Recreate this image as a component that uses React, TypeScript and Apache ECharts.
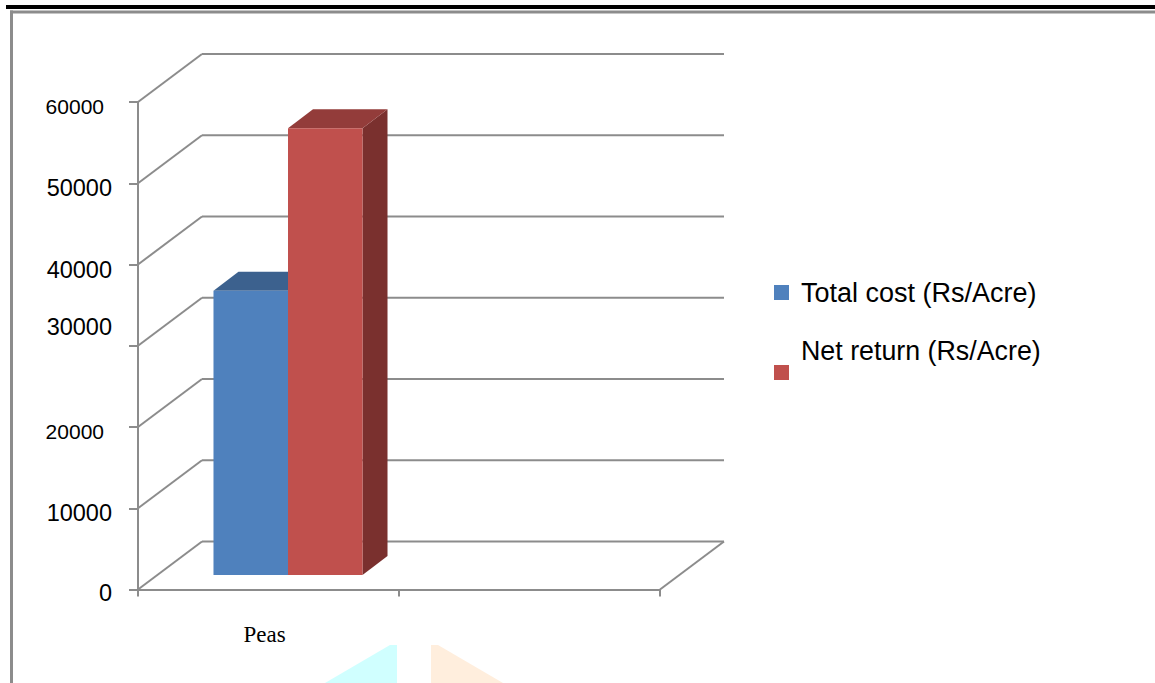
import React, { useEffect, useRef } from "react";
import * as echarts from "echarts";

const categories = ["Peas", ""];
const seriesNames = ["Total cost (Rs/Acre)", "Net return (Rs/Acre)"];
const totalCost = [35000, null];
const netReturn = [55000, null];
const yTicks = [0, 10000, 20000, 30000, 40000, 50000, 60000];

const GRAY = "#8c8c8c";
const DEPTH_X = 64;
const DEPTH_Y = 48;
const BAR_DX = 19;
const BAR_DY = 14.5;
const BAR_DEPTH_X = 25;
const BAR_DEPTH_Y = 19;
const LABEL_STYLE: Record<number, string> = {
  60000: "t60", 50000: "t50", 40000: "t40", 30000: "t30", 20000: "t20", 10000: "t10", 0: "t0",
};

function barSeries(name: string, values: (number | null)[], side: -1 | 1, front: string, top: string, right: string) {
  return {
    type: "custom",
    name,
    coordinateSystem: "cartesian2d",
    itemStyle: { color: front },
    data: values.map((v, i) => [i, v]),
    z: side === -1 ? 3 : 4,
    renderItem: (_p: any, api: any) => {
      if (api.value(1) == null || isNaN(api.value(1))) return { type: "group", children: [] };
      const base = api.coord([api.value(0), 0]);
      const tip = api.coord([api.value(0), api.value(1)]);
      const w = api.size([1, 0])[0] * 0.2855;
      const cx = Math.round(base[0] + BAR_DX);
      const x0 = side === -1 ? cx - w : cx;
      const x1 = x0 + w;
      const yb = base[1] - BAR_DY;
      const yt = tip[1] - BAR_DY;
      const poly = (points: number[][], fill: string) => ({
        type: "polygon",
        shape: { points },
        style: { fill },
      });
      return {
        type: "group",
        children: [
          poly([[x1, yb], [x1 + BAR_DEPTH_X, yb - BAR_DEPTH_Y], [x1 + BAR_DEPTH_X, yt - BAR_DEPTH_Y], [x1, yt]], right),
          poly([[x0, yt], [x1, yt], [x1 + BAR_DEPTH_X, yt - BAR_DEPTH_Y], [x0 + BAR_DEPTH_X, yt - BAR_DEPTH_Y]], top),
          { type: "rect", shape: { x: x0, y: yt, width: w, height: yb - yt }, style: { fill: front } },
        ],
      };
    },
  };
}

const wallSeries = {
  type: "custom",
  coordinateSystem: "cartesian2d",
  silent: true,
  z: 1,
  data: yTicks.map((t) => [0, t]),
  renderItem: (params: any, api: any) => {
    const c = api.coord([0, api.value(1)]);
    const left = params.coordSys.x;
    const width = params.coordSys.width;
    const y = c[1];
    const lineStyle = { stroke: GRAY, lineWidth: 2, fill: "none" };
    const children: any[] = [
      { type: "line", shape: { x1: left, y1: y, x2: left + DEPTH_X, y2: y - DEPTH_Y }, style: lineStyle },
      { type: "line", shape: { x1: left + DEPTH_X, y1: y - DEPTH_Y, x2: left + width + DEPTH_X, y2: y - DEPTH_Y }, style: lineStyle },
    ];
    if (api.value(1) === 0) {
      children.push({ type: "line", shape: { x1: left + width, y1: y, x2: left + width + DEPTH_X, y2: y - DEPTH_Y }, style: lineStyle });
    }
    return { type: "group", children };
  },
};

export default function App() {
  const ref = useRef<HTMLDivElement>(null);
  useEffect(() => {
    document.body.style.margin = "0";
    document.body.style.background = "#fff";
    const chart = echarts.init(ref.current!, null, { renderer: "svg" });
    chart.setOption({
      animation: false,
      backgroundColor: "#fff",
      grid: { left: 138, right: 495, top: 102, bottom: 93.5, containLabel: false },
      xAxis: {
        type: "category",
        data: categories,
        boundaryGap: true,
        axisLine: { lineStyle: { color: GRAY, width: 2 } },
        axisTick: { show: true, length: 7, alignWithLabel: false, lineStyle: { color: GRAY, width: 2 } },
        axisLabel: {
          color: "#000",
          fontFamily: "Liberation Serif",
          fontSize: 23,
          margin: 33,
          padding: [0, 8, 0, 0],
          interval: 0,
        },
      },
      yAxis: {
        type: "value",
        min: 0,
        max: 60000,
        interval: 10000,
        splitLine: { show: false },
        axisLine: { show: true, lineStyle: { color: GRAY, width: 2 } },
        axisTick: { show: true, length: 9, lineStyle: { color: GRAY, width: 2 } },
        axisLabel: {
          color: "#000",
          fontFamily: "Liberation Sans",
          margin: 26,
          align: "right",
          formatter: (v: number) => `{${LABEL_STYLE[v]}|${v}}`,
          rich: {
            t60: { fontSize: 21, padding: [8, 8, 0, 0], fontFamily: "Liberation Sans" },
            t50: { fontSize: 23.5, padding: [10, 0, 0, 0], fontFamily: "Liberation Sans" },
            t40: { fontSize: 23.5, padding: [10, 0, 0, 0], fontFamily: "Liberation Sans" },
            t30: { fontSize: 23.5, padding: [0, 0, 38, 0], fontFamily: "Liberation Sans" },
            t20: { fontSize: 21, padding: [8, 8, 0, 0], fontFamily: "Liberation Sans" },
            t10: { fontSize: 23.5, padding: [10, 0, 0, 0], fontFamily: "Liberation Sans" },
            t0: { fontSize: 23.5, padding: [7, 0, 0, 0], fontFamily: "Liberation Sans" },
          },
        },
      },
      legend: {
        orient: "vertical",
        left: 769,
        top: 274,
        itemWidth: 15,
        itemHeight: 15,
        itemGap: 31,
        icon: "rect",
        selectedMode: false,
        data: seriesNames,
        formatter: (n: string) => (n === seriesNames[0] ? `{a|${n}}` : `{b|${n}}`),
        textStyle: {
          color: "#000",
          fontFamily: "Liberation Sans",
          fontSize: 27,
          rich: {
            a: { fontSize: 27, fontFamily: "Liberation Sans", padding: [0, 0, 0, 7] },
            b: { fontSize: 26.8, fontFamily: "Liberation Sans", padding: [0, 0, 44, 7] },
          },
        },
      },
      series: [
        wallSeries,
        barSeries(seriesNames[0], totalCost, -1, "#4F81BD", "#3C618E", "#335478"),
        barSeries(seriesNames[1], netReturn, 1, "#C0504D", "#933C3A", "#7A302E"),
      ],
      graphic: [
        { type: "rect", silent: true, shape: { x: 6, y: 5, width: 1149, height: 4 }, style: { fill: "#000" } },
        { type: "rect", silent: true, shape: { x: 10, y: 10.5, width: 1145, height: 3 }, style: { fill: "#8c8c8c" } },
        { type: "rect", silent: true, shape: { x: 10, y: 10.5, width: 3, height: 672.5 }, style: { fill: "#8c8c8c" } },
        { type: "polygon", silent: true, shape: { points: [[325, 683], [390, 645], [397, 645], [397, 683]] }, style: { fill: "#D0FFFF" } },
        { type: "polygon", silent: true, shape: { points: [[431, 683], [431, 645], [438, 645], [503, 683]] }, style: { fill: "#FFEEDD" } },
      ],
    });
    return () => chart.dispose();
  }, []);
  return <div ref={ref} style={{ position: "fixed", left: 0, top: 0, width: 1155, height: 683 }} />;
}
